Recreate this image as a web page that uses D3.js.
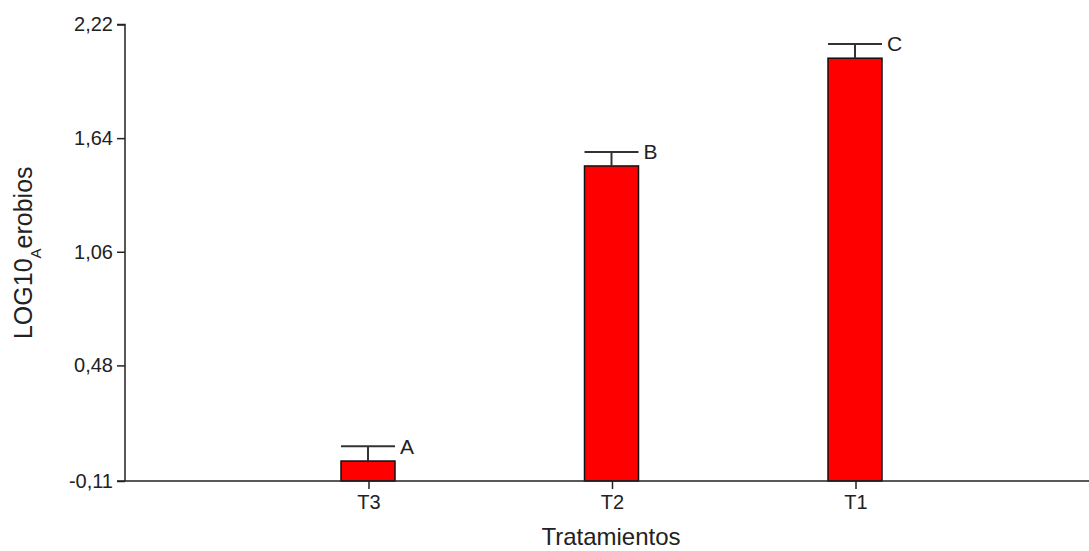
<!DOCTYPE html>
<html>
<head>
<meta charset="utf-8">
<script src="https://cdn.jsdelivr.net/npm/d3@7"></script>
<style>
  html, body { margin: 0; padding: 0; background: #fff; }
  svg { display: block; }
  text { font-family: "Liberation Sans", Arial, sans-serif; fill: #222; }
</style>
</head>
<body>
<svg id="chart" width="1089" height="551"></svg>
<script>
// Treatment means (log10 aerobic counts) with their error and grouping letters
const categories = ["T3", "T2", "T1"];
const means = [-0.008, 1.498, 2.048];
const errors = [0.075, 0.071, 0.073];
const letters = ["A", "B", "C"];
const yTicks = [-0.11, 0.48, 1.06, 1.64, 2.22];

const svg = d3.select("#chart");
const left = 125;
const plotRight = 1099;
const yTop = 24.5;
const yBottom = 481;
const FONT = "Liberation Sans, Arial, sans-serif";

const x = d3.scalePoint()
  .domain(categories)
  .range([left, plotRight])
  .padding(1);

const y = d3.scaleLinear()
  .domain([-0.11, 2.22])
  .range([yBottom, yTop]);

const barW = 54;
const fmt = v => d3.format(".2f")(v).replace(".", ",").replace("−", "-");

// Bars
svg.append("g").selectAll("rect")
  .data(categories)
  .join("rect")
  .attr("x", (d) => x(d) - barW / 2 - 0.5)
  .attr("y", (d, i) => y(means[i]))
  .attr("width", barW)
  .attr("height", (d, i) => y(-0.11) - y(means[i]))
  .attr("fill", "#ff0000")
  .attr("stroke", "#111")
  .attr("stroke-width", 1.5);

// Error bars (upper side) and letters
const eg = svg.append("g").attr("stroke", "#333").attr("stroke-width", 2);
categories.forEach((c, i) => {
  const cx = x(c) - 0.5;
  const top = y(means[i] + errors[i]);
  eg.append("line").attr("x1", cx).attr("x2", cx)
    .attr("y1", y(means[i])).attr("y2", top);
  eg.append("line").attr("x1", cx - barW / 2).attr("x2", cx + barW / 2)
    .attr("y1", top).attr("y2", top);
  svg.append("text")
    .attr("x", cx + barW / 2 + 5)
    .attr("y", top)
    .attr("dy", "0.35em")
    .attr("font-size", 21)
    .text(letters[i]);
});

// Y axis
const yAxis = d3.axisLeft(y)
  .tickValues(yTicks)
  .tickFormat(fmt)
  .tickSize(8)
  .tickPadding(4);
const gy = svg.append("g")
  .attr("transform", `translate(${left},0)`)
  .call(yAxis);
gy.select(".domain").attr("stroke", "#222").attr("stroke-width", 1.5)
  .attr("d", `M-8,${y(2.22)}H0V${yBottom}`);
gy.selectAll(".tick line").attr("stroke", "#222").attr("stroke-width", 1.5);
gy.selectAll(".tick text").attr("font-size", 20).attr("font-family", FONT).attr("fill", "#222");

// X axis
const xAxis = d3.axisBottom(x).tickSize(8).tickPadding(6);
const gx = svg.append("g")
  .attr("transform", `translate(0,${yBottom})`)
  .call(xAxis);
gx.select(".domain").attr("stroke", "#222").attr("stroke-width", 1.5)
  .attr("d", `M${left - 8},0H${plotRight}`);
gx.selectAll(".tick line").attr("stroke", "#222").attr("stroke-width", 1.5);
gx.selectAll(".tick text").attr("font-size", 20).attr("font-family", FONT).attr("fill", "#222");

// Axis titles
svg.append("text")
  .attr("x", 611)
  .attr("y", 545)
  .attr("text-anchor", "middle")
  .attr("font-size", 24)
  .text("Tratamientos");

const yt = svg.append("text")
  .attr("transform", `translate(32,${(yTop + yBottom) / 2}) rotate(-90)`)
  .attr("text-anchor", "middle")
  .attr("font-size", 25);
yt.append("tspan").text("LOG10");
yt.append("tspan").attr("baseline-shift", "sub").attr("font-size", 15).text("A");
yt.append("tspan").text("erobios");
</script>
</body>
</html>
